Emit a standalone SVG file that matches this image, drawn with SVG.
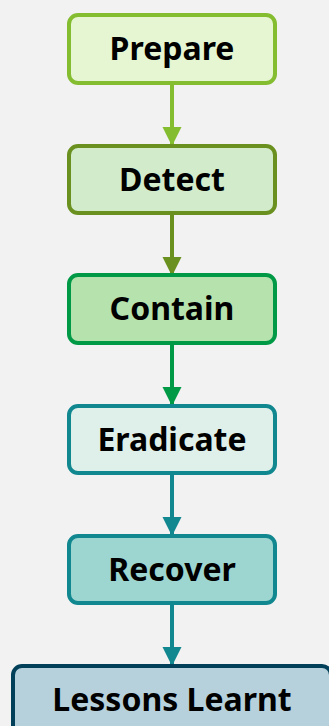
<svg xmlns="http://www.w3.org/2000/svg" width="329" height="726" viewBox="0 0 329 726">
<style>
.box{stroke-width:4}
.lbl{font-family:"Noto Sans","Open Sans",sans-serif;font-weight:bold;font-size:32px;text-anchor:middle;fill:#000}
.c{stroke-width:4;fill:none}
</style>
<defs>
<marker id="a1" markerUnits="userSpaceOnUse" markerWidth="20" markerHeight="20" refX="19" refY="10" orient="auto"><path d="M0,0.5 L19,10 L0,19.5 Z" fill="#84bd2f"/></marker>
<marker id="a2" markerUnits="userSpaceOnUse" markerWidth="20" markerHeight="20" refX="19" refY="10" orient="auto"><path d="M0,0.5 L19,10 L0,19.5 Z" fill="#6a911f"/></marker>
<marker id="a3" markerUnits="userSpaceOnUse" markerWidth="20" markerHeight="20" refX="19" refY="10" orient="auto"><path d="M0,0.5 L19,10 L0,19.5 Z" fill="#009a46"/></marker>
<marker id="a4" markerUnits="userSpaceOnUse" markerWidth="20" markerHeight="20" refX="19" refY="10" orient="auto"><path d="M0,0.5 L19,10 L0,19.5 Z" fill="#11878f"/></marker>
</defs>
<rect width="329" height="726" fill="#f2f2f2"/>
<g id="connectors">
<path class="c" d="M172,85 V146" stroke="#84bd2f" marker-end="url(#a1)"/>
<path class="c" d="M172,215 V276" stroke="#6a911f" marker-end="url(#a2)"/>
<path class="c" d="M172,345 V406" stroke="#009a46" marker-end="url(#a3)"/>
<path class="c" d="M172,475 V536" stroke="#11878f" marker-end="url(#a4)"/>
<path class="c" d="M172,605 V666" stroke="#11878f" marker-end="url(#a4)"/>
</g>
<g id="prepare"><rect class="box" x="69" y="15" width="206" height="68" rx="9" fill="#e6f5d2" stroke="#84bd2f"/><text class="lbl" x="172" y="59.5">Prepare</text></g>
<g id="detect"><rect class="box" x="69" y="146" width="206" height="67" rx="9" fill="#d1ebcb" stroke="#6a911f"/><text class="lbl" x="172" y="190.5">Detect</text></g>
<g id="contain"><rect class="box" x="69" y="275" width="206" height="68" rx="9" fill="#b6e2ae" stroke="#009a46"/><text class="lbl" x="172" y="319.5">Contain</text></g>
<g id="eradicate"><rect class="box" x="69" y="406" width="206" height="67" rx="9" fill="#dfefe9" stroke="#11878f"/><text class="lbl" x="172" y="450.5">Eradicate</text></g>
<g id="recover"><rect class="box" x="69" y="536" width="206" height="67" rx="9" fill="#9dd6d0" stroke="#11878f"/><text class="lbl" x="172" y="580.5">Recover</text></g>
<g id="lessons"><rect class="box" x="13" y="666" width="318" height="68" rx="9" fill="#b6d1dc" stroke="#023f58"/><text class="lbl" x="172" y="710.5">Lessons Learnt</text></g>
</svg>
